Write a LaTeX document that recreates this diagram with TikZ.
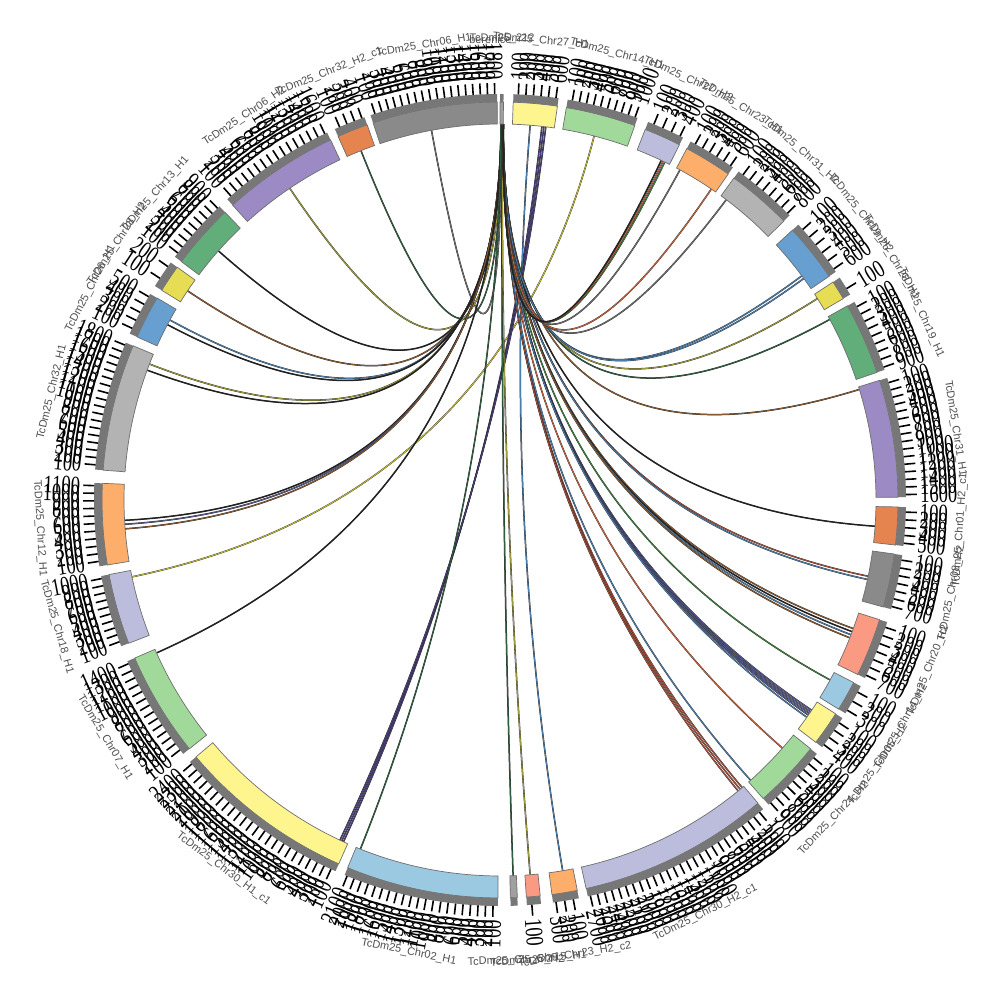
\documentclass[tikz,border=0pt]{standalone}
\usepackage{fontspec}
\newfontfamily\labfont{Liberation Sans}
\newfontfamily\tickfont{Liberation Serif}
\usetikzlibrary{calc}
\definecolor{ctiny}{HTML}{A0A0A0}
\definecolor{cyel}{HTML}{FFF58F}
\definecolor{clgreen}{HTML}{A1D99B}
\definecolor{clav}{HTML}{BCBDDC}
\definecolor{clorange}{HTML}{FDAE6B}
\definecolor{clgray}{HTML}{B3B3B3}
\definecolor{cblue}{HTML}{669FD0}
\definecolor{cdyellow}{HTML}{E6DD55}
\definecolor{cgreen}{HTML}{62AE7A}
\definecolor{cpurple}{HTML}{9C8AC4}
\definecolor{cdorange}{HTML}{E6844F}
\definecolor{cgray}{HTML}{8A8A8A}
\definecolor{csalmon}{HTML}{FB9A82}
\definecolor{clblue}{HTML}{9CC9E2}
\definecolor{bandedge}{HTML}{6E6E6E}
\definecolor{stripgray}{HTML}{777777}
\definecolor{labgray}{HTML}{505050}
\definecolor{lkgray}{HTML}{6E6E6E}
\definecolor{lkdgreen}{HTML}{2F5F3F}
\definecolor{lkolive}{HTML}{9D9B3B}
\definecolor{lkbrown}{HTML}{8A5A30}
\definecolor{lksteel}{HTML}{4D7FAE}
\definecolor{lkslate}{HTML}{565A8E}
\definecolor{lkyellow}{HTML}{C4BD3C}
\definecolor{lkpurple}{HTML}{4B3F7C}
\definecolor{lkred}{HTML}{A8503A}
\definecolor{lkorange}{HTML}{C8643C}
\definecolor{lkgreen}{HTML}{3F7F3F}
\definecolor{lkblack}{HTML}{222222}
\tikzset{
  band/.style={draw=bandedge, line width=0.7},
  tickline/.style={line width=1.6, black},
  ticklab/.style={inner sep=0, font=\tickfont\fontsize{18.5}{18.5}\selectfont},
  chrlab/.style={inner sep=0, text=labgray, font=\labfont\fontsize{11}{11}\selectfont},
  lk/.style={draw=black!85, line width=0.3, double distance=0.9},
}
% #1 theta start, #2 theta end (clockwise from top), #3 colour, #4 ticks, #5 label, #6 id
\newcommand\chrblock[6]{%
  \pgfmathsetmacro\cbS{90-#1}%
  \pgfmathsetmacro\cbE{90-#2}%
  \filldraw[fill=#3, band] (\cbS:376) arc[start angle=\cbS, end angle=\cbE, radius=376pt]
     -- (\cbE:398) arc[start angle=\cbE, end angle=\cbS, radius=398pt] -- cycle;
  \fill[stripgray] (\cbS:398) arc[start angle=\cbS, end angle=\cbE, radius=398pt]
     -- (\cbE:406) arc[start angle=\cbE, end angle=\cbS, radius=406pt] -- cycle;
  \ifnum#4>0
  \foreach \k in {1,...,#4}{%
    \pgfmathsetmacro\cbK{#1+(\k-0.35)*(#2-#1)/#4}%
    \pgfmathsetmacro\cbP{90-\cbK}%
    \pgfmathsetmacro\cbSin{sin(\cbK)}%
    \pgfmathtruncatemacro\cbV{100*\k}%
    \draw[tickline] (\cbP:406) -- (\cbP:417);
    \ifdim\cbSin pt>-0.001pt
      \node[ticklab, anchor=west, rotate=\cbP] (t#6-\k) at (\cbP:420) {\scalebox{1}[1.35]{\cbV}};
    \else
      \node[ticklab, anchor=east, rotate=\cbP+180] (t#6-\k) at (\cbP:420) {\scalebox{1}[1.35]{\cbV}};
    \fi
  }%
  \fi
  \pgfmathsetmacro\cbT{(#1+#2)/2}%
  \pgfmathsetmacro\cbM{90-\cbT}%
  \pgfmathsetmacro\cbR{cos(\cbT)>-0.0001 ? \cbM-90 : \cbM+90}%
  \node[chrlab, rotate=\cbR] (n#6) at (\cbM:461) {#5};
}
% #1 id, #2 theta start, #3 theta end, #4 colour
\newcommand\lnk[4]{%
  \coordinate (ls#1) at ({90-#2}:376);
  \coordinate (le#1) at ({90-#3}:376);
  \draw[lk, double=#4] (ls#1) .. controls ($(ls#1)!0.667!(O)$) and ($(le#1)!0.667!(O)$) .. (le#1);
}
\begin{document}
\begin{tikzpicture}[x=1pt,y=1pt]
\useasboundingbox (-500,-500) rectangle (500,500);
\fill[white] (-500,-500) rectangle (500,500);
\coordinate (O) at (0,0);
% links
\lnk{1}{0.30}{349.5}{lkgray}
\lnk{2}{0.28}{338.3}{lkdgreen}
\lnk{3}{0.26}{326.0}{lkolive}
\lnk{4}{0.25}{311.5}{lkblack}
\lnk{5}{0.24}{303.8}{lkbrown}
\lnk{6}{0.23}{298.6}{lksteel}
\lnk{7}{0.22}{297.8}{lkblack}
\lnk{8}{0.21}{291.2}{lkolive}
\lnk{9}{0.20}{290.2}{lkblack}
\lnk{10}{0.18}{266.9}{lkblack}
\lnk{11}{0.17}{266.3}{lkslate}
\lnk{12}{0.16}{265.6}{lkbrown}
\lnk{13}{14.5}{258.2}{lkyellow}
\lnk{14}{0.15}{246.0}{lkblack}
\lnk{15a}{6.4}{204.6}{lkpurple}
\lnk{15b}{6.7}{204.9}{lkpurple}
\lnk{15c}{7.0}{205.2}{lkpurple}
\lnk{16}{0.14}{201.8}{lkdgreen}
\lnk{17}{0.35}{178.0}{lkdgreen}
\lnk{18}{0.38}{175.4}{lkolive}
\lnk{19}{4.6}{170.4}{lksteel}
\lnk{20a}{0.40}{139.9}{lkred}
\lnk{20b}{0.42}{140.3}{lkred}
\lnk{20c}{0.44}{140.7}{lkred}
\lnk{21}{0.41}{138.2}{lksteel}
\lnk{22}{0.43}{131.3}{lkorange}
\lnk{23a}{0.45}{124.0}{lkslate}
\lnk{23b}{0.45}{124.3}{lkslate}
\lnk{23c}{0.45}{124.6}{lkslate}
\lnk{23d}{0.45}{124.9}{lkslate}
\lnk{23e}{0.45}{125.3}{lksteel}
\lnk{24}{0.46}{118.6}{lkgreen}
\lnk{25a}{0.47}{110.0}{lkbrown}
\lnk{25b}{0.47}{110.5}{lkblack}
\lnk{25c}{0.47}{111.0}{lksteel}
\lnk{25d}{0.47}{111.5}{lkbrown}
\lnk{26a}{0.48}{101.7}{lkred}
\lnk{26b}{0.48}{102.2}{lksteel}
\lnk{27}{0.48}{94.0}{lkblack}
\lnk{28}{0.49}{72.9}{lkbrown}
\lnk{29}{0.49}{61.3}{lkdgreen}
\lnk{30}{0.49}{57.6}{lkolive}
\lnk{31a}{0.5}{53.4}{lksteel}
\lnk{31b}{0.5}{53.9}{lksteel}
\lnk{32}{0.5}{37.0}{lkgray}
\lnk{33}{0.5}{34.2}{lkorange}
\lnk{34}{0.5}{28.6}{lkgray}
\lnk{35a}{0.5}{26.0}{lkgreen}
\lnk{35b}{0.5}{25.7}{lkorange}
\lnk{35c}{0.5}{25.4}{lkblack}
% chromosomes
\chrblock{0.0}{0.5}{ctiny}{0}{TcDm25\_212}{b1}
\chrblock{1.9}{8.3}{cyel}{6}{TcDm25\_Chr27\_H1}{b2}
\chrblock{9.6}{19.8}{clgreen}{10}{TcDm25\_Chr14\_H1}{b3}
\chrblock{21.4}{26.8}{clav}{4}{TcDm25\_Chr27\_H2}{b4}
\chrblock{28.0}{35.0}{clorange}{6}{TcDm25\_Chr23\_H1}{b5}
\chrblock{36.0}{45.5}{clgray}{8}{TcDm25\_Chr31\_H2}{b6}
\chrblock{47.3}{55.8}{cblue}{6}{TcDm25\_Chr19\_H2}{b7}
\chrblock{56.8}{59.6}{cdyellow}{1}{TcDm25\_Chr28\_H1}{b8}
\chrblock{60.8}{71.3}{cgreen}{9}{TcDm25\_Chr19\_H1}{b9}
\chrblock{72.5}{89.6}{cpurple}{16}{TcDm25\_Chr31\_H1}{b10}
\chrblock{91.0}{96.5}{cdorange}{5}{TcDm25\_Chr01\_H2\_c1}{b11}
\chrblock{97.8}{105.6}{cgray}{7}{TcDm25\_Chr08\_H2}{b12}
\chrblock{107.5}{116.0}{csalmon}{7}{TcDm25\_Chr20\_H2}{b13}
\chrblock{117.3}{121.7}{clblue}{3}{TcDm25\_Chr14\_H2}{b14}
\chrblock{122.5}{127.5}{cyel}{4}{TcDm25\_Chr05\_H2}{b15}
\chrblock{128.7}{138.6}{clgreen}{9}{TcDm25\_Chr24\_H2}{b16}
\chrblock{139.6}{167.5}{clav}{27}{TcDm25\_Chr30\_H2\_c1}{b17}
\chrblock{168.8}{172.5}{clorange}{3}{TcDm25\_Chr23\_H2\_c2}{b18}
\chrblock{174.2}{176.2}{csalmon}{1}{TcDm25\_Chr15\_H1}{b19}
\chrblock{177.5}{178.5}{ctiny}{0}{TcDm25\_Chr25\_H2}{b20}
\chrblock{180.3}{202.5}{clblue}{21}{TcDm25\_Chr02\_H1}{b21}
\chrblock{203.9}{229.8}{cyel}{24}{TcDm25\_Chr30\_H1\_c1}{b22}
\chrblock{231.3}{246.6}{clgreen}{14}{TcDm25\_Chr07\_H1}{b23}
\chrblock{248.9}{259.2}{clav}{10}{TcDm25\_Chr18\_H1}{b24}
\chrblock{260.6}{272.4}{clorange}{11}{TcDm25\_Chr12\_H1}{b25}
\chrblock{274.3}{292.8}{clgray}{18}{TcDm25\_Chr32\_H1}{b26}
\chrblock{294.2}{300.5}{cblue}{5}{TcDm25\_Chr26\_H1}{b27}
\chrblock{301.8}{305.8}{cdyellow}{2}{TcDm25\_Chr28\_H2}{b28}
\chrblock{306.8}{316.3}{cgreen}{9}{TcDm25\_Chr13\_H1}{b29}
\chrblock{317.8}{334.8}{cpurple}{16}{TcDm25\_Chr06\_H2}{b30}
\chrblock{336.0}{340.5}{cdorange}{4}{TcDm25\_Chr32\_H2\_c1}{b31}
\chrblock{341.4}{359.6}{cgray}{18}{TcDm25\_Chr06\_H1}{b32}
\node[chrlab] (nber) at ({90+1.2}:461) {berenice};
\end{tikzpicture}
\end{document}
